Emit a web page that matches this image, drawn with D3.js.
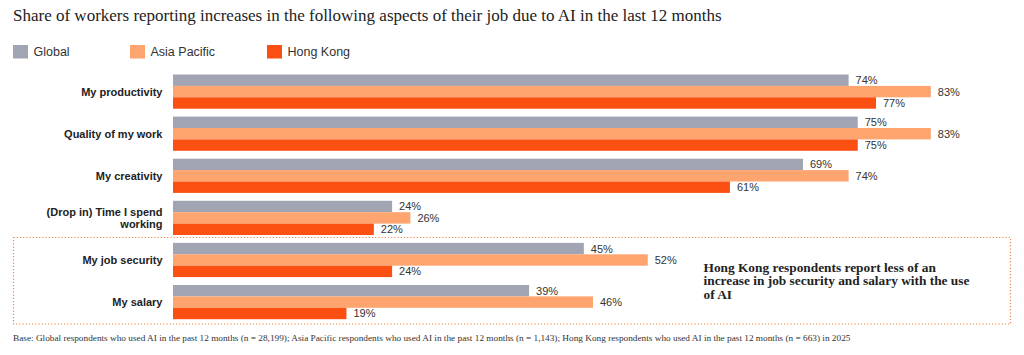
<!DOCTYPE html>
<html><head><meta charset="utf-8">
<script src="https://cdn.jsdelivr.net/npm/d3@7"></script>
<style>body{margin:0;background:#fff}svg{display:block}</style>
</head><body><svg id="c" width="1024" height="355"></svg>
<script>
const title = "Share of workers reporting increases in the following aspects of their job due to AI in the last 12 months";
const categories = ["My productivity","Quality of my work","My creativity","(Drop in) Time I spend working","My job security","My salary"];
const categoryLines = [["My productivity"],["Quality of my work"],["My creativity"],["(Drop in) Time I spend","working"],["My job security"],["My salary"]];
const seriesNames = ["Global","Asia Pacific","Hong Kong"];
const globalValues = [74,75,69,24,45,39];
const asiaPacificValues = [83,83,74,26,52,46];
const hongKongValues = [77,75,61,22,24,19];
const colors = ["#a1a4b3","#fda46f","#fc5012"];
const annotationLines = ["Hong Kong respondents report less of an","increase in job security and salary with the use","of AI"];
const footnote = "Base: Global respondents who used AI in the past 12 months (n = 28,199); Asia Pacific respondents who used AI in the past 12 months (n = 1,143); Hong Kong respondents who used AI in the past 12 months (n = 663) in 2025";

const series = [globalValues, asiaPacificValues, hongKongValues];
const svg = d3.select("#c");
const sans = "Liberation Sans, Arial, sans-serif";
const serif = "Liberation Serif, Times New Roman, serif";

function fitText(sel, w){
  const node = sel.node();
  let fs = parseFloat(sel.attr("font-size"));
  const len = node.getComputedTextLength();
  sel.attr("font-size", (fs * w / len).toFixed(2));
}

// title
const t = svg.append("text").attr("x",13).attr("y",21).attr("font-family",serif)
  .attr("font-size",16).attr("fill","#222").text(title);
fitText(t, 709);

// legend
const legX = [13,130,267];
seriesNames.forEach((n,i)=>{
  svg.append("rect").attr("x",legX[i]).attr("y",45).attr("width",15).attr("height",13.5).attr("fill",colors[i]);
  svg.append("text").attr("x",legX[i]+20.5).attr("y",56).attr("font-family",sans).attr("font-size",12.5)
    .attr("fill","#333").text(n);
});

// scales
const step = 42.1, pi = 0.1876, y0 = 74.5;
const y = d3.scaleBand().domain(categories).range([y0, y0 + step*(categories.length - pi)]).paddingInner(pi).paddingOuter(0);
const ys = d3.scaleBand().domain(seriesNames).range([0, y.bandwidth()]).padding(0);
const x = d3.scaleLinear().domain([0,100]).range([173, 173+913]);

// dotted box
svg.append("rect").attr("x",13.5).attr("y",237.5).attr("width",997).attr("height",86.5)
  .attr("fill","none").attr("stroke","#e7874d").attr("stroke-width",1.2).attr("stroke-dasharray","1.2,2");

// bars
const g = svg.append("g");
categories.forEach((c,ci)=>{
  seriesNames.forEach((s,si)=>{
    const v = series[si][ci];
    g.append("rect").attr("x",x(0)).attr("y",y(c)+ys(s)).attr("width",x(v)-x(0)).attr("height",ys.bandwidth())
      .attr("fill",colors[si]);
    g.append("text").attr("x",x(v)+7).attr("y",y(c)+ys(s)+ys.bandwidth()/2).attr("dy","0.36em")
      .attr("font-family",sans).attr("font-size",11).attr("fill","#333").text(v+"%");
  });
  const lines = categoryLines[ci];
  const cy = y(c)+y.bandwidth()/2;
  lines.forEach((l,li)=>{
    g.append("text").attr("x",162.5).attr("y",cy + (li-(lines.length-1)/2)*12.5).attr("dy","0.36em")
      .attr("text-anchor","end").attr("font-family",sans).attr("font-size",11).attr("font-weight","bold")
      .attr("fill","#222").text(l);
  });
});

// annotation
const ann = [];
annotationLines.forEach((l,i)=>{
  ann.push(svg.append("text").attr("x",703.5).attr("y",271.5+i*13.5).attr("font-family",serif).attr("font-weight","bold")
    .attr("font-size",12.5).attr("fill","#222").text(l));
});
const w1 = ann[1].node().getComputedTextLength();
const afs = (12.5*266/w1).toFixed(2);
ann.forEach(a=>a.attr("font-size",afs));

// footnote
const f = svg.append("text").attr("x",13).attr("y",341).attr("font-family",serif).attr("font-size",9)
  .attr("fill","#333").text(footnote);
fitText(f, 839);
</script></body></html>
